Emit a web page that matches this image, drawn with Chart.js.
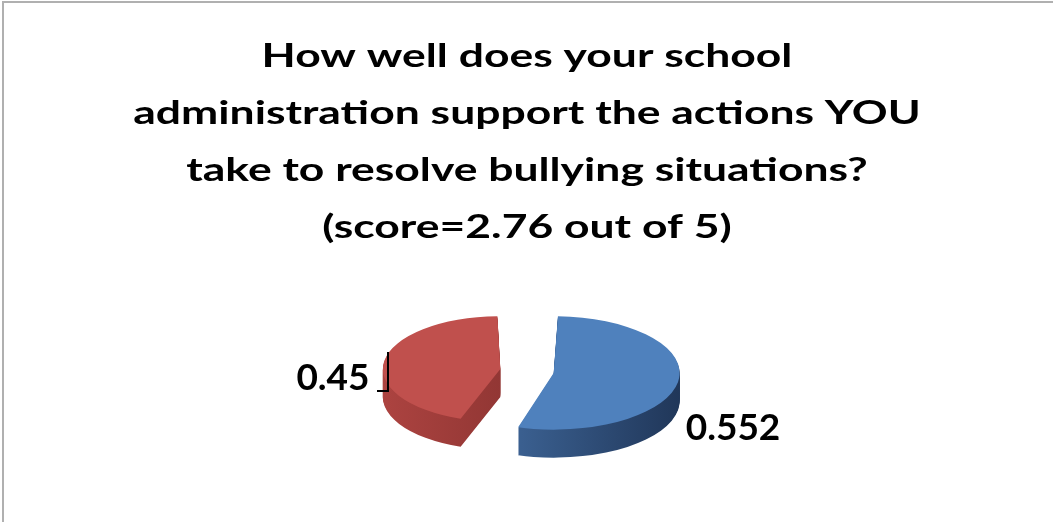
<!DOCTYPE html>
<html>
<head>
<meta charset="utf-8">
<script src="https://cdn.jsdelivr.net/npm/chart.js@4.4.0/dist/chart.umd.min.js"></script>
<style>
html,body{margin:0;padding:0;background:#fff;overflow:hidden;}
#wrap{position:absolute;left:0;top:0;width:1053px;height:522px;}
#frame{position:absolute;left:2px;top:1px;width:1080px;height:560px;border-top:2px solid #b0b0b0;border-left:2px solid #b0b0b0;box-sizing:border-box;pointer-events:none;}
</style>
</head>
<body>
<div id="wrap"><canvas id="pie" width="1053" height="522"></canvas><div id="frame"></div></div>
<script>
const titleLines = ['How well does your school', 'administration support the actions YOU', 'take to resolve bullying situations?', '(score=2.76 out of 5)'];
const categories = ['1', '2'];
const values = [0.552, 0.45];
const valueLabels = ['0.552', '0.45'];
const faceColors = ['#4f81bd', '#c0504d'];
const sideColors = [['#4570a6', '#1c3050'], ['#b44744', '#7c2c2a']];

const tilt = 0.45, depth = 28, explode = 27, titleStretch = 1.347;

function tiltAt(ctx, arc, dy){
  ctx.translate(arc.x, arc.y + dy);
  ctx.scale(1, tilt);
  ctx.translate(-arc.x, -arc.y);
}

// flattened pie with a side wall, drawn from the library's own arc elements
const pie3d = {
  id: 'pie3d',
  beforeDraw(chart){
    // the title in the picture is stretched sideways
    const tb = chart.titleBlock;
    if(tb && !tb._wide){
      const orig = tb.draw;
      tb.draw = function(area){
        const ctx = this.ctx, cx = (this.left + this.right) / 2;
        ctx.save();
        ctx.translate(cx, 0);
        ctx.scale(titleStretch, 1);
        ctx.translate(-cx, 0);
        orig.call(this, area);
        ctx.restore();
      };
      tb._wide = true;
    }
  },
  beforeDatasetsDraw(chart){
    const ctx = chart.ctx;
    const arcs = chart.getDatasetMeta(0).data;
    const grads = arcs.map((arc, i) => {
      const mid = (arc.startAngle + arc.endAngle) / 2;
      const sx = arc.x + Math.cos(mid) * explode;
      const r = arc.outerRadius + explode;
      const g = ctx.createLinearGradient(sx - r, 0, sx + r, 0);
      g.addColorStop(0, sideColors[i][0]);
      g.addColorStop(1, sideColors[i][1]);
      return g;
    });
    for(let k = depth; k >= 1; k--){
      ctx.save();
      tiltAt(ctx, arcs[0], k);
      arcs.forEach((arc, i) => {
        const wall = Object.create(arc);
        wall.options = Object.assign({}, arc.options, {backgroundColor: grads[i]});
        wall.draw(ctx);
      });
      ctx.restore();
    }
    ctx.save();
    tiltAt(ctx, arcs[0], 0);
  },
  afterDatasetsDraw(chart){
    chart.ctx.restore();
  },
  afterDraw(chart){
    const ctx = chart.ctx;
    const a = chart.getDatasetMeta(0).data[0];
    const R = a.outerRadius + explode;
    ctx.save();
    ctx.fillStyle = '#000';
    ctx.font = 'bold 37px Lato';
    ctx.textBaseline = 'middle';
    ctx.textAlign = 'center';
    ctx.fillText(valueLabels[0], a.x + R * 1.635, a.y + 57);
    ctx.fillText(valueLabels[1], a.x - R * 1.54, a.y + 7);
    ctx.strokeStyle = '#000';
    ctx.lineWidth = 2;
    ctx.beginPath();
    ctx.moveTo(a.x - 139, a.y - 19);
    ctx.lineTo(a.x - 139, a.y + 20);
    ctx.lineTo(a.x - 150, a.y + 20);
    ctx.stroke();
    ctx.restore();
  }
};

new Chart(document.getElementById('pie'), {
  type: 'pie',
  data: {
    labels: categories,
    datasets: [{
      data: values,
      backgroundColor: faceColors,
      borderWidth: 0,
      offset: explode * 4,
      radius: 99,
      clip: false
    }]
  },
  options: {
    responsive: false,
    animation: false,
    layout: {padding: {top: 0, bottom: 36, left: 1, right: 0}},
    plugins: {
      legend: {display: false},
      tooltip: {enabled: false},
      title: {
        display: true,
        text: titleLines,
        color: '#000',
        font: {family: 'Lato', size: 33, weight: 'bold', lineHeight: '57px'},
        padding: {top: 28, bottom: 0}
      }
    }
  },
  plugins: [pie3d]
});
</script>
</body>
</html>
